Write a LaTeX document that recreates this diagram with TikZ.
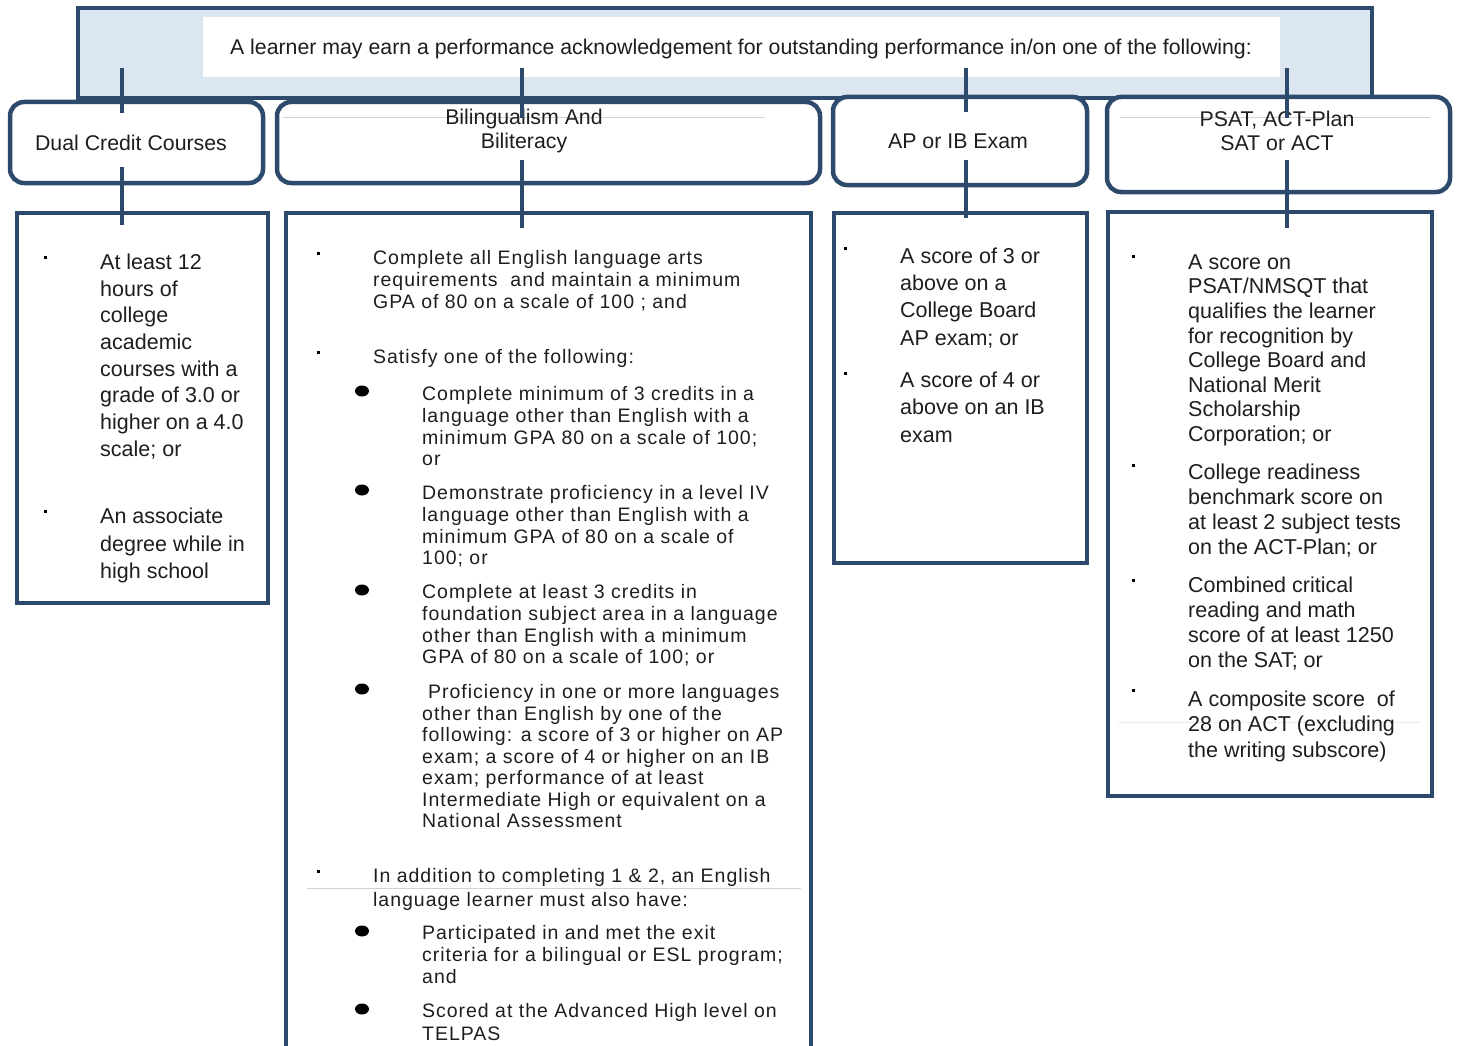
\documentclass[tikz,border=0pt]{standalone}
\usepackage{fontspec}
\setmainfont{Liberation Sans}
\newfontfamily\widefont[LetterSpace=5]{Liberation Sans}
\usetikzlibrary{shapes.geometric}
\definecolor{navy}{RGB}{45,74,108}
\definecolor{bannerfill}{RGB}{220,230,241}
\definecolor{txtc}{RGB}{30,30,30}
\begin{document}
\begin{tikzpicture}[x=1pt,y=-1pt,
  frame/.style={draw=navy, line width=4.5pt, inner sep=0pt},
  hdr/.style={frame, rounded corners=14pt, fill=white},
  conn/.style={draw=navy, line width=4pt},
  htxt/.style={font=\fontsize{21.3}{24}\selectfont, align=center, inner sep=0pt, text=txtc},
  ptxt/.style={anchor=north west, inner sep=0pt, align=left, text=txtc},
  big/.style={font=\fontsize{21.5}{#1}\selectfont},
  wide/.style={font=\widefont\fontsize{19.5}{#1}\selectfont},
  sq/.style={fill=black, minimum size=3pt, inner sep=0pt, outer sep=0pt},
  dotb/.style={ellipse, fill=black, minimum width=14pt, minimum height=11pt, inner sep=0pt},
  faint/.style={draw=black!18, line width=0.8pt}]
\useasboundingbox (0,0) rectangle (1459,1046);
\fill[white] (0,0) rectangle (1459,1046);

% banner
\node[frame, fill=bannerfill, minimum width=1294pt, minimum height=90pt] (banner) at (725,53) {};
\node[fill=white, minimum width=1077pt, minimum height=60pt, inner sep=0pt] (bannerin) at (741.5,47) {};
\node[htxt] (bannertxt) at (741,48.5) {A learner may earn a performance acknowledgement for outstanding performance in/on one of the following:};

% header boxes
\node[hdr, minimum width=253pt, minimum height=81pt] (h1) at (136.5,142.5) {};
\node[hdr, minimum width=543pt, minimum height=81pt] (h2) at (548.5,142.5) {};
\node[hdr, minimum width=254pt, minimum height=88pt] (h3) at (960,141) {};
\node[hdr, minimum width=343pt, minimum height=95pt] (h4) at (1278.5,144.5) {};
\draw[faint] (283,117) -- (765,117);
\draw[faint] (1120,117) -- (1430,117);
\node[htxt] (h1t) at (131,142.5) {Dual Credit Courses};
\node[htxt] (h2t) at (524,131) {Bilingualism And\\Biliteracy};
\node[htxt] (h3t) at (958,141.5) {AP or IB Exam};
\node[htxt] (h4t) at (1277,131) {PSAT, ACT-Plan\\SAT or ACT};

% body boxes
\node[frame, minimum width=251pt, minimum height=390pt] (b1) at (142.5,408) {};
\coordinate (b2bl) at (286,1046);
\coordinate (b2tl) at (286,213);
\coordinate (b2tr) at (811,213);
\coordinate (b2br) at (811,1046);
\draw[navy, line width=4.5pt] (b2bl) -- (b2tl) -- (b2tr) -- (b2br);
\node[frame, minimum width=253pt, minimum height=350pt] (b3) at (960.5,388) {};
\node[frame, minimum width=324pt, minimum height=584pt] (b4) at (1270,504) {};

% connectors
\coordinate (t1) at (122,68);  \coordinate (u1) at (122,113);
\coordinate (v1) at (122,167); \coordinate (w1) at (122,225);
\coordinate (t2) at (522,68);  \coordinate (u2) at (522,118);
\coordinate (v2) at (522,160); \coordinate (w2) at (522,228);
\coordinate (t3) at (966,68);  \coordinate (u3) at (966,112);
\coordinate (v3) at (966,160); \coordinate (w3) at (966,218);
\coordinate (t4) at (1287,68); \coordinate (u4) at (1287,118);
\coordinate (v4) at (1287,160);\coordinate (w4) at (1287,228);
\foreach \i in {1,2,3,4} {
  \draw[conn] (t\i) -- (u\i);
  \draw[conn] (v\i) -- (w\i);
}

% column 1
\node[sq] (q11) at (45,257) {};
\node[sq] (q12) at (45,511) {};
\node[ptxt, big=26.7] (p11) at (100,250.5) {\strut At least 12\\hours of\\college\\academic\\courses with a\\grade of 3.0 or\\higher on a 4.0\\scale; or};
\node[ptxt, big=27.5] (p12) at (100,504.5) {\strut An associate\\degree while in\\high school};

% column 2
\node[sq] (q21) at (318,253) {};
\node[sq] (q22) at (318,352) {};
\node[sq] (q23) at (318,871) {};
\node[dotb] (d21) at (362,391) {};
\node[dotb] (d22) at (362,490) {};
\node[dotb] (d23) at (362,590) {};
\node[dotb] (d24) at (362,689) {};
\node[dotb] (d25) at (362,931) {};
\node[dotb] (d26) at (362,1009) {};
\node[ptxt, wide=21.7] (p21) at (373,249.3) {\strut Complete all English language arts\\requirements\ \ and maintain a minimum\\GPA of 80 on a scale of 100 ; and};
\node[ptxt, wide=21.7] (p22) at (373,348.3) {\strut Satisfy one of the following:};
\node[ptxt, wide=21.7] (s21) at (422,385.3) {\strut Complete minimum of 3 credits in a\\language other than English with a\\minimum GPA 80 on a scale of 100;\\or};
\node[ptxt, wide=21.7] (s22) at (422,484.3) {\strut Demonstrate proficiency in a level IV\\language other than English with a\\minimum GPA of 80 on a scale of\\100; or};
\node[ptxt, wide=21.7] (s23) at (422,583.3) {\strut Complete at least 3 credits in\\foundation subject area in a language\\other than English with a minimum\\GPA of 80 on a scale of 100; or};
\node[ptxt, wide=21.5] (s24) at (422,683.3) {\strut\hspace{6pt}Proficiency in one or more languages\\other than English by one of the\\following: a score of 3 or higher on AP\\exam; a score of 4 or higher on an IB\\exam; performance of at least\\Intermediate High or equivalent on a\\National Assessment};
\draw[faint] (307,888) -- (801,888);
\node[ptxt, wide=24] (p23) at (373,865.7) {\strut In addition to completing 1 \& 2, an English\\language learner must also have:};
\node[ptxt, wide=22] (s25) at (422,924.1) {\strut Participated in and met the exit\\criteria for a bilingual or ESL program;\\and};
\node[ptxt, wide=23] (s26) at (422,1001.4) {\strut Scored at the Advanced High level on\\TELPAS};

% column 3
\node[sq] (q31) at (845,248) {};
\node[sq] (q32) at (845,373) {};
\node[ptxt, big=27.3] (p31) at (900,243.9) {\strut A score of 3 or\\above on a\\College Board\\AP exam; or};
\node[ptxt, big=27.5] (p32) at (900,367.8) {\strut A score of 4 or\\above on an IB\\exam};

% column 4
\node[sq] (q41) at (1133,256) {};
\node[sq] (q42) at (1133,465) {};
\node[sq] (q43) at (1133,580) {};
\node[sq] (q44) at (1133,690) {};
\node[ptxt, big=24.6] (p41) at (1188,251.8) {\strut A score on\\PSAT/NMSQT that\\qualifies the learner\\for recognition by\\College Board and\\National Merit\\Scholarship\\Corporation; or};
\node[ptxt, big=25] (p42) at (1188,461.5) {\strut College readiness\\benchmark score on\\at least 2 subject tests\\on the ACT-Plan; or};
\node[ptxt, big=25] (p43) at (1188,574.5) {\strut Combined critical\\reading and math\\score of at least 1250\\on the SAT; or};
\draw[draw=black!8, line width=0.8pt] (1118,722) -- (1420,722);
\node[ptxt, big=25.5] (p44) at (1188,688.2) {\strut A composite score\ \ of\\28 on ACT (excluding\\the writing subscore)};
\end{tikzpicture}
\end{document}
